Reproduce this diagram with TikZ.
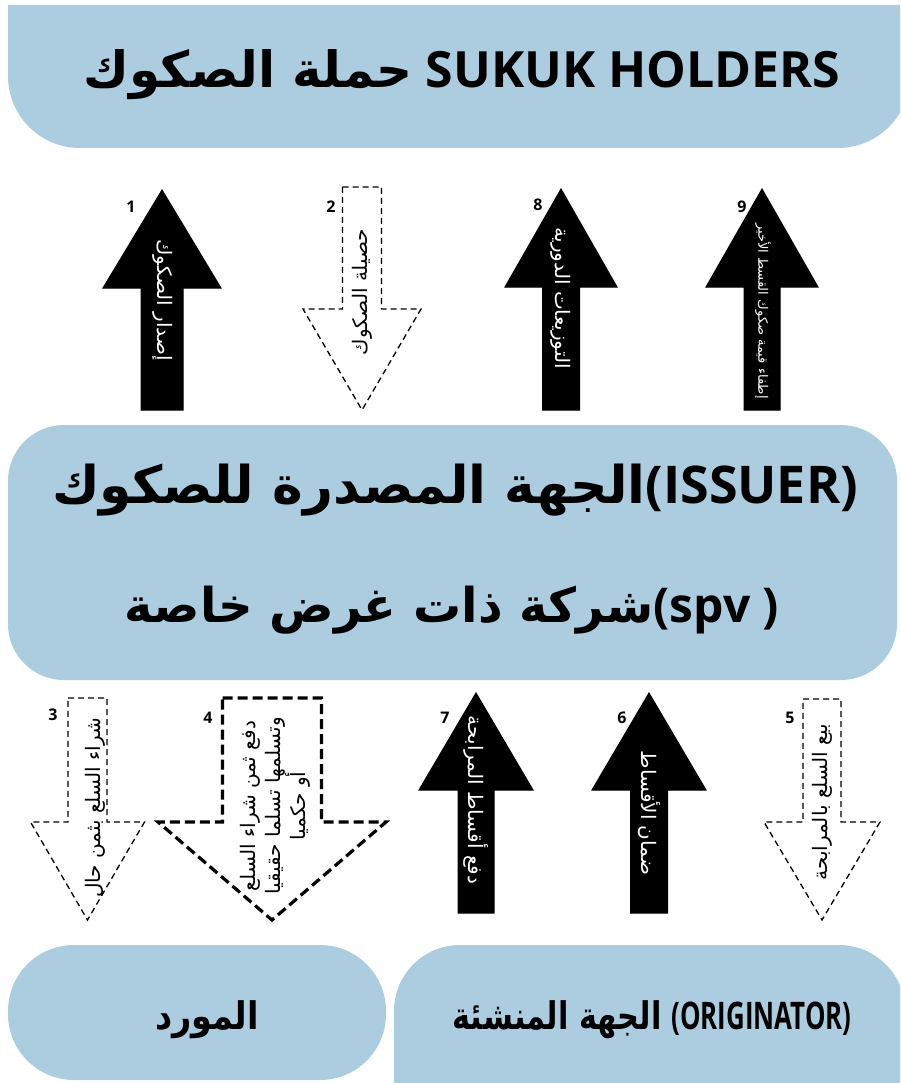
\documentclass[tikz,border=0pt]{standalone}
\usepackage{fontspec}
\setmainfont{Open Sans}
\newfontfamily\arabicfont[Script=Arabic]{DejaVu Sans}
\TeXXeTstate=1
\definecolor{boxblue}{RGB}{172,204,224}

% block arrow pointing up: style, centre x, tip y, head base y, bottom y, head half width, shaft half width
\newcommand\upblock[7]{%
  \draw[#1] (#2,#3) -- ({#2+#6},#4) -- ({#2+#7},#4) -- ({#2+#7},#5)
    -- ({#2-#7},#5) -- ({#2-#7},#4) -- ({#2-#6},#4) -- cycle;}
% block arrow pointing down: style, centre x, top y, head base y, tip y, head half width, shaft half width
\newcommand\downblock[7]{%
  \draw[#1] ({#2-#7},#3) -- ({#2+#7},#3) -- ({#2+#7},#4) -- ({#2+#6},#4)
    -- (#2,#5) -- ({#2-#6},#4) -- ({#2-#7},#4) -- cycle;}

\tikzset{
  panel/.style={fill=boxblue, draw=none},
  solidarrow/.style={fill=black, draw=black, line width=1pt, line join=miter},
  dasharrow/.style={draw=black, line width=1.3pt, dash pattern=on 6pt off 4pt},
  heavydasharrow/.style={draw=black, line width=3.2pt, dash pattern=on 10pt off 5pt},
  arrowtext/.style={font=\arabicfont\fontsize{20}{25}\selectfont, inner sep=0pt},
  whitetext/.style={arrowtext, text=white},
  steplabel/.style={font=\bfseries\fontsize{16}{16}\selectfont, inner sep=0pt},
  paneltext/.style={inner sep=0pt, align=center},
}

\begin{document}
\begin{tikzpicture}[x=1pt, y=-1pt]
\useasboundingbox (0,0) rectangle (900,1083);
\clip (0,0) rectangle (900,1083);

% panels
\path[panel] (8,5) -- (910,5) [rounded corners=72pt] -- (910,148) -- (8,148) [sharp corners] -- cycle;
\path[panel, rounded corners=56pt] (8,425) rectangle (897,680);
\path[panel, rounded corners=66pt] (8,945) rectangle (386,1080);
\path[panel] (394,1090) [rounded corners=66pt] -- (394,945) -- (905,945) [sharp corners] -- (905,1090) -- cycle;

\node[paneltext] (holders) at (462,75)
  {\fontsize{50}{54}\selectfont\bfseries{\arabicfont\beginR حملة الصكوك\endR} SUKUK HOLDERS};
\node[paneltext] (issuer) at (455,490)
  {\fontsize{52}{56}\selectfont\bfseries{\arabicfont\beginR الجهة المصدرة للصكوك\endR}(ISSUER)};
\node[paneltext] (spv) at (452,610)
  {\fontsize{48}{50}\selectfont\bfseries{\arabicfont\beginR شركة ذات غرض خاصة\endR}(spv )};
\node[paneltext] (supplier) at (207,1020)
  {\fontsize{38}{42}\selectfont\bfseries\arabicfont\scalebox{0.88}[1]{\beginR المورد\endR}};
\node[paneltext] (originator) at (652,1020)
  {\fontsize{38}{42}\selectfont\bfseries\scalebox{0.8}[1]{\arabicfont\beginR الجهة المنشئة\endR}
   \scalebox{0.68}[1]{(ORIGINATOR)}};

% upper arrows
\upblock{solidarrow}{162}{190}{288}{410}{59}{21}
\downblock{dasharrow}{362}{187}{309}{410}{59}{19.5}
\upblock{solidarrow}{561}{189}{287}{410}{56}{18.5}
\upblock{solidarrow}{762}{189}{287}{410}{56}{18}

\node[whitetext, rotate=-90] (t1) at (163,300) {\beginR إصدار الصكوك\endR};
\node[arrowtext, rotate=90] (t2) at (362,292) {\beginR حصيلة الصكوك\endR};
\node[whitetext, rotate=-90] (t8) at (561,298) {\beginR التوزيعات الدورية\endR};
\node[whitetext, rotate=-90, font=\arabicfont\fontsize{13}{15}\selectfont] (t9) at (763,311)
  {\beginR إطفاء قيمة صكوك القسط الأخير\endR};

\node[steplabel] (n1) at (131,207) {1};
\node[steplabel] (n2) at (331,207) {2};
\node[steplabel] (n8) at (538,205) {8};
\node[steplabel] (n9) at (742,207) {9};

% lower arrows
\downblock{dasharrow}{87.5}{698}{822}{920}{57}{19.5}
\downblock{heavydasharrow}{272}{698}{822}{920}{114}{49.5}
\upblock{solidarrow}{476}{693}{790}{913}{57}{18}
\upblock{solidarrow}{649}{693}{790}{913}{57}{18.5}
\downblock{dasharrow}{822}{699}{822}{920}{58}{19}

\node[arrowtext, rotate=90] (t3) at (95,808) {\beginR شراء السلع بثمن حال\endR};
\node[arrowtext, rotate=90, align=center] (t4) at (275,806)
  {\beginR دفع ثمن شراء السلع\endR\\\beginR وتسلمها تسلما حقيقيا\endR\\\beginR أو حكميا\endR};
\node[whitetext, rotate=-90] (t7) at (476,800) {\beginR دفع أقساط المرابحة\endR};
\node[whitetext, rotate=-90] (t6) at (649,813) {\beginR ضمان الأقساط\endR};
\node[arrowtext, rotate=90] (t5) at (822,802) {\beginR بيع السلع بالمرابحة\endR};

\node[steplabel] (n3) at (53,715) {3};
\node[steplabel] (n4) at (208,718) {4};
\node[steplabel] (n7) at (445,718) {7};
\node[steplabel] (n6) at (622,718) {6};
\node[steplabel] (n5) at (790,718) {5};
\end{tikzpicture}
\end{document}
